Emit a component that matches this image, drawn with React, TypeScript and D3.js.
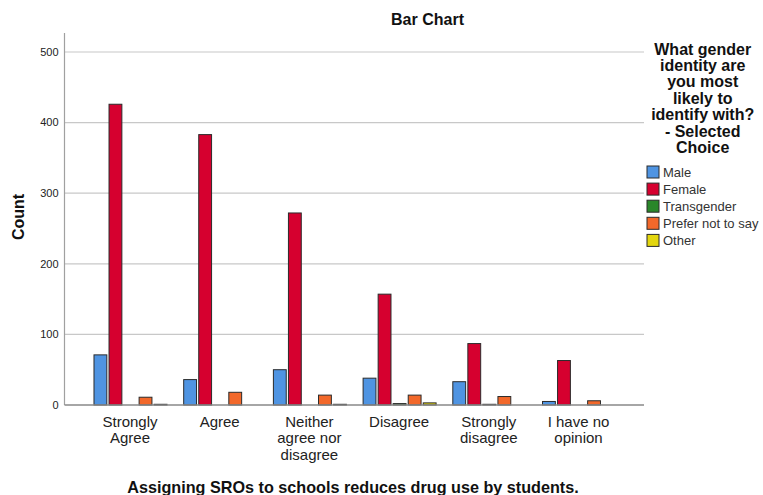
import React from "react";
import * as d3 from "d3";

const categories: string[][] = [
  ["Strongly", "Agree"],
  ["Agree"],
  ["Neither", "agree nor", "disagree"],
  ["Disagree"],
  ["Strongly", "disagree"],
  ["I have no", "opinion"],
];
const seriesNames = ["Male", "Female", "Transgender", "Prefer not to say", "Other"];
const male = [71, 36, 50, 38, 33, 5];
const female = [426, 383, 272, 157, 87, 63];
const transgender = [0, 0, 0, 2, 1, 0];
const preferNot = [11, 18, 14, 14, 12, 6];
const other = [1, 0, 1, 3, 0, 0];
const yTicks = [0, 100, 200, 300, 400, 500];
const legendTitle = ["What gender", "identity are", "you most", "likely to", "identify with?", "- Selected", "Choice"];
const colors = ["#4f94e2", "#d6002f", "#2a872a", "#f2682a", "#e3d60e"];

export default function App() {
  const W = 763, H = 495;
  const left = 64.5, right = 644, top = 33, bottom = 405;
  const seriesValues = [male, female, transgender, preferNot, other];
  const y = d3.scaleLinear().domain([0, 500]).range([bottom, 52]);
  const x = d3.scalePoint<number>().domain(categories.map((_, i) => i)).range([left, right]).padding(0.73);
  const inner = d3.scaleBand<number>().domain(seriesNames.map((_, i) => i)).range([-36.5, 37.5]).paddingInner(0.08).paddingOuter(0);
  const font = "Liberation Sans, Arial, sans-serif";

  return (
    <svg width={W} height={H} style={{ position: "absolute", left: 0, top: 0, background: "#fff" }} fontFamily={font}>
      <text x={427.5} y={25} textAnchor="middle" fontSize={16} fontWeight="bold" fill="#111">Bar Chart</text>
      {yTicks.filter(t => t > 0).map(t => (
        <line key={"g" + t} x1={left} x2={right} y1={y(t)} y2={y(t)} stroke="#c8c8c8" strokeWidth={1.2} />
      ))}
      {yTicks.map(t => (
        <text key={"t" + t} x={58.5} y={y(t)} dy="0.35em" textAnchor="end" fontSize={11} fill="#222">{t}</text>
      ))}
      <line x1={left} x2={left} y1={top} y2={bottom} stroke="#a0a0a0" strokeWidth={1.2} />
      {seriesValues.map((vals, si) =>
        vals.map((v, ci) => {
          const bx = (x(ci) as number) + (inner(si) as number);
          const bw = inner.bandwidth();
          if (v <= 0) return null;
          return (
            <rect key={si + "-" + ci} x={bx + 0.5} y={y(v)} width={bw - 1} height={bottom - y(v)}
              fill={colors[si]} stroke="#2b2b2b" strokeWidth={1} />
          );
        })
      )}
      <line x1={left} x2={right} y1={bottom} y2={bottom} stroke="#888" strokeWidth={1.5} />
      {categories.map((lines, ci) => (
        <text key={"c" + ci} x={x(ci) as number} y={421.7} textAnchor="middle" fontSize={15} fill="#222">
          {lines.map((l, li) => (
            <tspan key={li} x={x(ci) as number} dy={li === 0 ? "0.35em" : 16.5}>{l}</tspan>
          ))}
        </text>
      ))}
      <text x={353} y={487} dy="0.35em" textAnchor="middle" fontSize={16.2} fontWeight="bold" fill="#111">
        Assigning SROs to schools reduces drug use by students.
      </text>
      <text transform="translate(18,217) rotate(-90)" textAnchor="middle" dy="0.35em" fontSize={16} fontWeight="bold" fill="#111">Count</text>
      {legendTitle.map((l, i) => (
        <text key={"lt" + i} x={702.7} y={49 + i * 16.4} dy="0.35em" textAnchor="middle" fontSize={16} fontWeight="bold" fill="#111">{l}</text>
      ))}
      {seriesNames.map((n, i) => (
        <g key={"l" + i}>
          <rect x={647} y={166 + i * 17.1} width={12} height={12} fill={colors[i]} stroke="#2b2b2b" strokeWidth={1} />
          <text x={663} y={172 + i * 17.1} dy="0.35em" fontSize={13} fill="#333">{n}</text>
        </g>
      ))}
    </svg>
  );
}
